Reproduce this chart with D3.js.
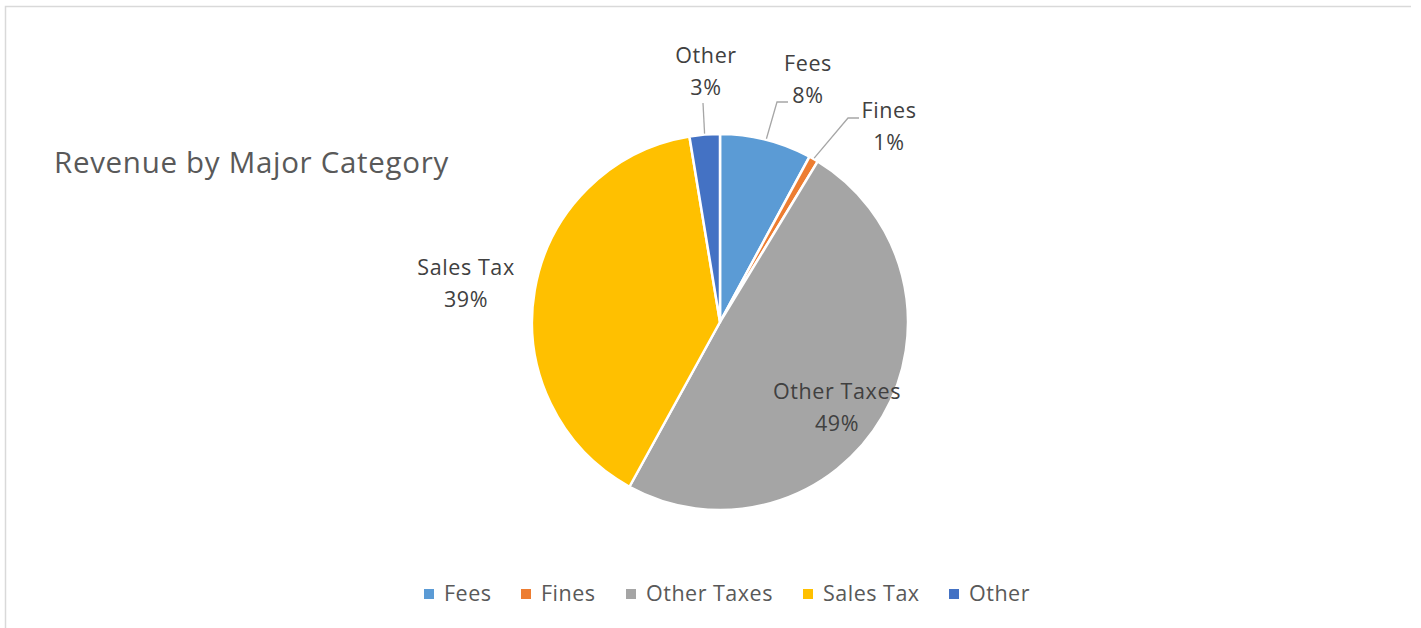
<!DOCTYPE html>
<html>
<head>
<meta charset="utf-8">
<script src="https://cdn.jsdelivr.net/npm/d3@7"></script>
<style>
  body { margin: 0; background: #fff; }
  svg { display: block; font-family: "Open Sans", Lato, sans-serif; }
</style>
</head>
<body>
<div id="chart"></div>
<script>
// values (percent of total)
const categories = ['Fees', 'Fines', 'Other Taxes', 'Sales Tax', 'Other'];
const values = [7.9, 0.8, 49.3, 39.4, 2.6];
const colors = ['#5B9BD5', '#ED7D31', '#A5A5A5', '#FFC000', '#4472C4'];

// label placement relative to pie centre (dx, dy of first text line baseline)
const labelOffsets = [[88, -251], [169, -204], [117, 77], [-254, -47], [-14, -259]];
// where the leader line meets the label (null = label sits inside / no leader)
const leaderEnds = [[68, -220], [139, -204], null, null, [-17, -219]];

const width = 1421, height = 628;
const cx = 720, cy = 322, r = 188;

const svg = d3.select('#chart').append('svg')
  .attr('width', width)
  .attr('height', height);

// chart area border (top + left visible)
svg.append('path')
  .attr('d', `M5.5,${height} L5.5,6.5 L1411,6.5`)
  .attr('fill', 'none')
  .attr('stroke', '#d9d9d9')
  .attr('stroke-width', 1.5);

svg.append('text')
  .attr('x', 54)
  .attr('y', 173)
  .attr('fill', '#595959')
  .style('font-size', '29.5px')
  .style('letter-spacing', '0.7px')
  .text('Revenue by Major Category');

const data = categories.map((c, i) => ({name: c, value: values[i], color: colors[i], i}));

const pie = d3.pie().sort(null).value(d => d.value);
const arcs = pie(data);
const arc = d3.arc().innerRadius(0).outerRadius(r);
const edge = d3.arc().innerRadius(r + 1).outerRadius(r + 1);

const g = svg.append('g').attr('transform', `translate(${cx},${cy})`);

g.selectAll('.slice')
  .data(arcs)
  .enter()
  .append('path')
  .attr('class', 'slice')
  .attr('d', arc)
  .attr('fill', d => d.data.color)
  .attr('stroke', '#fff')
  .attr('stroke-width', 2.5)
  .attr('stroke-linejoin', 'round');

// leader lines for outside labels
arcs.forEach(d => {
  const end = leaderEnds[d.data.i];
  if (!end) return;
  const [sx, sy] = edge.centroid(d);
  const [ex, ey] = end;
  const pts = Math.abs(sx - ex) < 20
    ? [[sx, sy], [ex, ey]]
    : [[sx, sy], [ex - 11, ey], [ex, ey]];
  g.append('path')
    .attr('d', d3.line()(pts))
    .attr('fill', 'none')
    .attr('stroke', '#a6a6a6')
    .attr('stroke-width', 1.3);
});

const labels = g.selectAll('.lbl')
  .data(arcs)
  .enter()
  .append('text')
  .attr('class', 'lbl')
  .attr('text-anchor', 'middle')
  .attr('fill', '#404040')
  .style('font-size', '21.5px')
  .style('letter-spacing', '0.6px');

labels.append('tspan')
  .attr('x', d => labelOffsets[d.data.i][0])
  .attr('y', d => labelOffsets[d.data.i][1])
  .text(d => d.data.name);
labels.append('tspan')
  .attr('x', d => labelOffsets[d.data.i][0])
  .attr('y', d => labelOffsets[d.data.i][1] + 32)
  .text(d => Math.round(d.data.value) + '%');

// legend
const legendX = [424, 521, 626, 803, 949];
const legend = svg.append('g').attr('class', 'legend');
data.forEach((d, i) => {
  legend.append('rect')
    .attr('x', legendX[i])
    .attr('y', 589)
    .attr('width', 10)
    .attr('height', 10)
    .attr('fill', d.color);
  legend.append('text')
    .attr('x', legendX[i] + 20)
    .attr('y', 601)
    .attr('fill', '#595959')
    .style('font-size', '21.5px')
    .style('letter-spacing', '0.5px')
    .text(d.name);
});
</script>
</body>
</html>
